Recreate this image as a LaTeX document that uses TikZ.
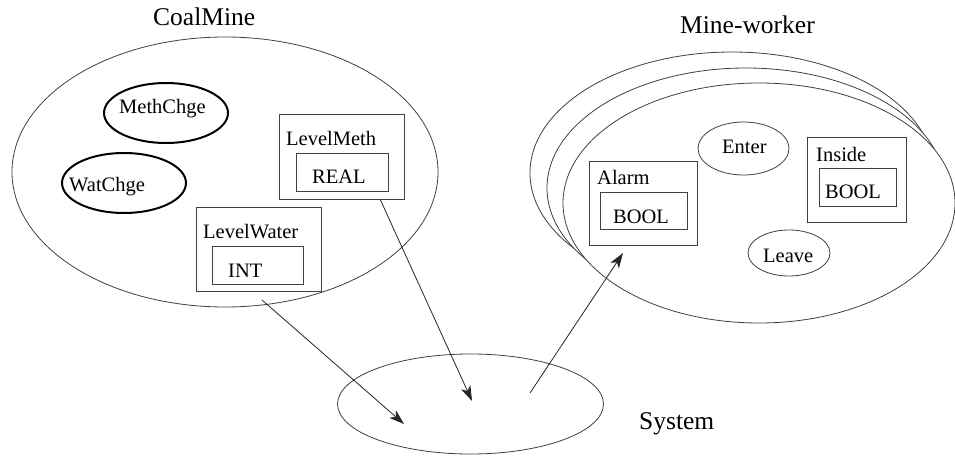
\documentclass[tikz,border=0pt]{standalone}
\usepackage{fontspec}
\setmainfont{Liberation Serif}
\newfontfamily\tmsfont{Liberation Serif}
\usetikzlibrary{shapes.geometric,arrows.meta}
\begin{document}
\begin{tikzpicture}[x=1pt,y=-1pt,
  thin/.style={draw=black!75,line width=0.8pt},
  thick/.style={draw=black,line width=2pt},
  ell/.style={ellipse,inner sep=0pt,fill=white},
  box/.style={rectangle,inner sep=0pt,draw=black!75,line width=0.8pt,fill=white},
  small/.style={inner sep=0pt,anchor=base west,font=\tmsfont\fontsize{20.5}{24}\selectfont},
  big/.style={inner sep=0pt,anchor=base west,font=\tmsfont\fontsize{25.5}{30}\selectfont},
  arr/.style={draw=black!85,line width=0.8pt,-{Stealth[length=15pt,width=10pt,inset=4pt]}}]
\useasboundingbox[fill=white] (0,0) rectangle (955,457);

% CoalMine
\node[ell,thin,minimum width=426pt,minimum height=270pt] (coal) at (225,172) {};
\node[big] (coallbl) at (153,26) {CoalMine};
\node[ell,thick,minimum width=124pt,minimum height=60pt] (meth) at (166,113) {};
\node[small] (methlbl) at (119,114) {MethChge};
\node[ell,thick,minimum width=124pt,minimum height=60pt] (wat) at (124,183) {};
\node[small] (watlbl) at (69,191) {WatChge};

\node[box,minimum width=125pt,minimum height=85pt] (lm) at (341.5,156.5) {};
\node[small] (lmlbl) at (286,146) {LevelMeth};
\node[box,minimum width=92pt,minimum height=38pt] (real) at (342,172) {};
\node[small] (reallbl) at (312,184) {REAL};

\node[box,minimum width=125pt,minimum height=84pt] (lw) at (258.5,249) {};
\node[small] (lwlbl) at (203,238) {LevelWater};
\node[box,minimum width=91pt,minimum height=38pt] (int) at (257.5,265) {};
\node[small] (intlbl) at (228,277) {INT};

% Mine-worker
\node[big] (mwlbl) at (680,34) {Mine-worker};
\node[ell,thin,minimum width=404pt,minimum height=242pt] (mw3) at (732,173) {};
\node[ell,thin,minimum width=398pt,minimum height=240pt] (mw2) at (746,188) {};
\node[ell,thin,minimum width=392pt,minimum height=240pt] (mw1) at (759,203) {};

\node[box,minimum width=108pt,minimum height=84pt] (alarm) at (643,203) {};
\node[small] (alarmlbl) at (597,185) {Alarm};
\node[box,minimum width=87pt,minimum height=37pt] (bool1) at (643.5,210.5) {};
\node[small] (bool1lbl) at (613,223) {BOOL};

\node[ell,thin,minimum width=91pt,minimum height=53pt] (enter) at (743.5,148.5) {};
\node[small] (enterlbl) at (722,154) {Enter};

\node[box,minimum width=99pt,minimum height=85pt] (inside) at (856.5,179.5) {};
\node[small] (insidelbl) at (816,162) {Inside};
\node[box,minimum width=77pt,minimum height=38pt] (bool2) at (857.5,187) {};
\node[small] (bool2lbl) at (825,199) {BOOL};

\node[ell,thin,minimum width=82pt,minimum height=46pt] (leave) at (789,253) {};
\node[small] (leavelbl) at (763,262) {Leave};

% System
\node[ell,thin,minimum width=266pt,minimum height=100pt] (sys) at (470.5,404) {};
\node[big] (syslbl) at (639,429) {System};

% connectors
\coordinate (a1s) at (262,300);
\coordinate (a1e) at (404,424);
\coordinate (a2s) at (380,199);
\coordinate (a2e) at (472,401);
\coordinate (a3s) at (530,393);
\coordinate (a3e) at (623,253);
\draw[arr] (a1s) -- (a1e);
\draw[arr] (a2s) -- (a2e);
\draw[arr] (a3s) -- (a3e);
\end{tikzpicture}
\end{document}
